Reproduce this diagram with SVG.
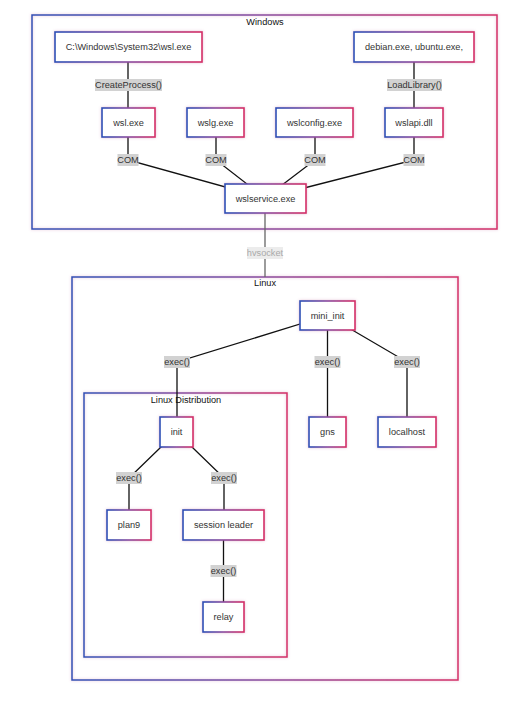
<svg xmlns="http://www.w3.org/2000/svg" width="530" height="701" viewBox="0 0 530 701">
<defs>
<linearGradient id="g" x1="0" y1="0" x2="1" y2="0">
<stop offset="0" stop-color="#2a4fb5"/>
<stop offset="0.5" stop-color="#8a4a9e"/>
<stop offset="1" stop-color="#d42e66"/>
</linearGradient>
<filter id="glow" x="-20%" y="-20%" width="140%" height="140%">
<feDropShadow dx="0" dy="0" stdDeviation="1.5" flood-color="#b0508a" flood-opacity="0.35"/>
</filter>
</defs>
<style>
.box{fill:#fff;stroke:url(#g);stroke-width:1.6;filter:url(#glow)}
.cont{fill:none;stroke:url(#g);stroke-width:1.5;filter:url(#glow)}
.t{font-family:"Liberation Sans",Arial,sans-serif;font-size:9.2px;fill:#333;text-anchor:middle;dominant-baseline:central}
.ct{font-family:"Liberation Sans",Arial,sans-serif;font-size:9.2px;fill:#111;text-anchor:middle;dominant-baseline:central}
.e{fill:none;stroke:#111;stroke-width:1.3}
.lb{fill:#d2d2d2}
.lt{font-family:"Liberation Sans",Arial,sans-serif;font-size:9.2px;fill:#333;text-anchor:middle;dominant-baseline:central}
</style>
<rect width="530" height="701" fill="#fff"/>
<g id="windows">
<rect class="cont" x="32" y="15" width="465" height="214"/>
<text class="ct" x="265" y="22">Windows</text>
</g>
<g id="linux">
<rect class="cont" x="72" y="277" width="386" height="403"/>
<text class="ct" x="265" y="283">Linux</text>
</g>
<g id="linux-distribution">
<rect class="cont" x="84" y="393" width="203" height="264"/>
<text class="ct" x="186" y="400">Linux Distribution</text>
</g>
<g id="connectors">
<polyline class="e" points="128,62 128,108"/>
<polyline class="e" points="414,62 414,108"/>
<polyline class="e" points="128,137 128,160 265,198"/>
<polyline class="e" points="216,137 216,160 265,198"/>
<polyline class="e" points="315,137 315,160 265,198"/>
<polyline class="e" points="414,137 414,160 265,198"/>
<polyline points="265,213 265,277" fill="none" stroke="#666" stroke-width="1.3"/>
<polyline class="e" points="327.5,315.5 177,362 177,417"/>
<polyline class="e" points="327.5,330 327.5,417"/>
<polyline class="e" points="327.5,315.5 407,362 407,417"/>
<polyline class="e" points="176.5,432 129,478 129,510"/>
<polyline class="e" points="176.5,432 224,478 224,510"/>
<polyline class="e" points="223.5,540 223.5,602"/>
<rect class="lb" x="95" y="79" width="67" height="12"/>
<text class="lt" x="128.5" y="85">CreateProcess()</text>
<rect class="lb" x="387" y="79" width="55" height="12"/>
<text class="lt" x="414.5" y="85">LoadLibrary()</text>
<rect class="lb" x="117.5" y="154" width="21" height="12"/>
<text class="lt" x="128" y="160">COM</text>
<rect class="lb" x="205.5" y="154" width="21" height="12"/>
<text class="lt" x="216" y="160">COM</text>
<rect class="lb" x="304.5" y="154" width="21" height="12"/>
<text class="lt" x="315" y="160">COM</text>
<rect class="lb" x="403.5" y="154" width="21" height="12"/>
<text class="lt" x="414" y="160">COM</text>
<rect x="247" y="247" width="36" height="12" fill="#ececec"/>
<text class="lt" x="265" y="253" style="fill:#aaa">hvsocket</text>
<rect class="lb" x="164" y="356" width="26" height="12"/>
<text class="lt" x="177" y="362">exec()</text>
<rect class="lb" x="314.5" y="356" width="26" height="12"/>
<text class="lt" x="327.5" y="362">exec()</text>
<rect class="lb" x="394" y="356" width="26" height="12"/>
<text class="lt" x="407" y="362">exec()</text>
<rect class="lb" x="116" y="472" width="26" height="12"/>
<text class="lt" x="129" y="478">exec()</text>
<rect class="lb" x="211" y="472" width="26" height="12"/>
<text class="lt" x="224" y="478">exec()</text>
<rect class="lb" x="210.5" y="565" width="26" height="12"/>
<text class="lt" x="223.5" y="571">exec()</text>
</g>
<g id="wsl-path">
<rect class="box" x="55" y="32" width="147" height="30"/>
<text class="t" x="128.5" y="47">C:\Windows\System32\wsl.exe</text>
</g>
<g id="distro-launchers">
<rect class="box" x="354" y="32" width="120" height="30"/>
<text class="t" x="414" y="47">debian.exe, ubuntu.exe,</text>
</g>
<g id="wsl-exe">
<rect class="box" x="102" y="108" width="53" height="29"/>
<text class="t" x="128.5" y="122.5">wsl.exe</text>
</g>
<g id="wslg-exe">
<rect class="box" x="187" y="108" width="57" height="29"/>
<text class="t" x="215.5" y="122.5">wslg.exe</text>
</g>
<g id="wslconfig-exe">
<rect class="box" x="276" y="108" width="77" height="29"/>
<text class="t" x="314.5" y="122.5">wslconfig.exe</text>
</g>
<g id="wslapi-dll">
<rect class="box" x="385" y="108" width="58" height="29"/>
<text class="t" x="414" y="122.5">wslapi.dll</text>
</g>
<g id="wslservice-exe">
<rect class="box" x="225" y="184" width="81" height="29"/>
<text class="t" x="265.5" y="198.5">wslservice.exe</text>
</g>
<g id="mini-init">
<rect class="box" x="300" y="301" width="55" height="29"/>
<text class="t" x="327.5" y="315.5">mini_init</text>
</g>
<g id="init">
<rect class="box" x="160" y="417" width="33" height="30"/>
<text class="t" x="176.5" y="432">init</text>
</g>
<g id="gns">
<rect class="box" x="309" y="417" width="37" height="30"/>
<text class="t" x="327.5" y="432">gns</text>
</g>
<g id="localhost">
<rect class="box" x="378" y="417" width="58" height="30"/>
<text class="t" x="407" y="432">localhost</text>
</g>
<g id="plan9">
<rect class="box" x="107" y="510" width="44" height="30"/>
<text class="t" x="129" y="525">plan9</text>
</g>
<g id="session-leader">
<rect class="box" x="183" y="510" width="81" height="30"/>
<text class="t" x="223.5" y="525">session leader</text>
</g>
<g id="relay">
<rect class="box" x="203" y="602" width="41" height="30"/>
<text class="t" x="223.5" y="617">relay</text>
</g>
</svg>
